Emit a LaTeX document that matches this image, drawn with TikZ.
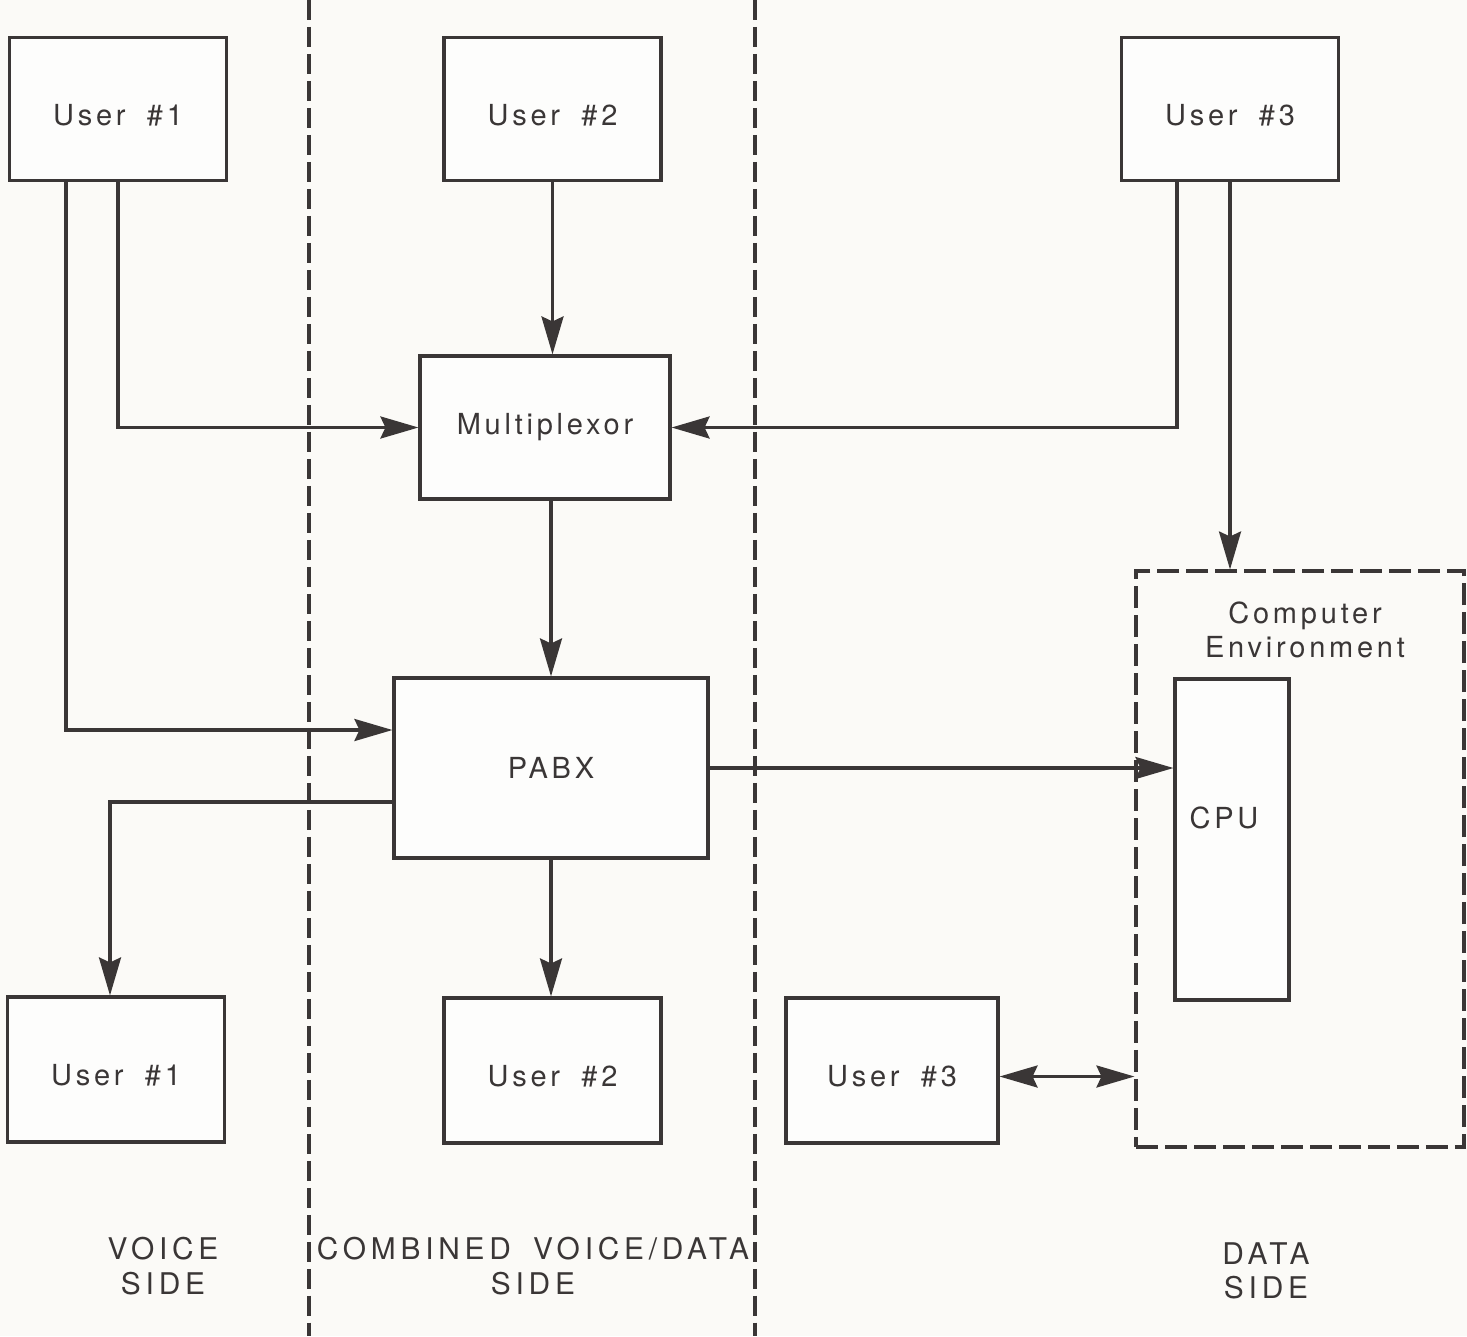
\documentclass[tikz,border=0pt]{standalone}
\usepackage{fontspec}
\setmainfont{TeX Gyre Heros}[LetterSpace=13, WordSpace=1.8]
\newfontfamily\sidefont{TeX Gyre Heros}[LetterSpace=16, WordSpace=1.7]
\usetikzlibrary{arrows.meta, positioning, calc}
\definecolor{paperF}{HTML}{FBFAF7}
\definecolor{inkS}{HTML}{3A3636}
\tikzset{
  >={Stealth[length=0.76cm, width=0.44cm, inset=0.1cm]},
  fbox/.style={draw=inkS, line width=1.8pt, fill=white!60!paperF,
    align=center, font=\fontsize{16.5}{19.5}\selectfont, inner sep=0pt, text=inkS},
  ubox/.style={fbox, minimum width=4.34cm, minimum height=2.86cm,
    text height=0.64cm, text depth=0cm},
  envbox/.style={draw=inkS, line width=1.8pt, dash pattern=on 0.44cm off 0.14cm,
    minimum width=6.56cm, minimum height=11.52cm, inner sep=0pt},
  divider/.style={draw=inkS, line width=1.8pt, dash pattern=on 0.4cm off 0.14cm},
  txt/.style={align=center, text=inkS, inner sep=0pt,
    font=\fontsize{16.5}{19}\selectfont},
  sidelbl/.style={align=center, text=inkS, inner sep=0pt,
    font=\sidefont\fontsize{17}{19.5}\selectfont},
  flow/.style={->, line width=1.8pt, draw=inkS},
  dflow/.style={<->, line width=1.8pt, draw=inkS},
}
\begin{document}
\begin{tikzpicture}[x=0.02cm, y=-0.02cm]

  \fill[paperF] (0,0) rectangle (1467,1336);
  \useasboundingbox (0,0) rectangle (1467,1336);

  % ---- Side dividers ---------------------------------------------------------
  \draw[divider] (309,0) -- (309,1336);
  \draw[divider] (755,0) -- (755,1336);

  % ---- Top row: sending users ------------------------------------------------
  \node[ubox] (usr1t) at (118,109)   {User \#1};
  \node[ubox] (usr2t) at (552.5,109) {User \#2};
  \node[ubox] (usr3t) at (1230,109)  {User \#3};

  % ---- Switching -------------------------------------------------------------
  \node[fbox, minimum width=5cm, minimum height=2.86cm]   (mux)  at (545,427.5) {Multiplexor};
  \node[fbox, minimum width=6.28cm, minimum height=3.6cm] (pabx) at (551,768)   {PABX};

  % ---- Computer environment --------------------------------------------------
  \node[envbox] (env) at (1300,859) {};
  \node[txt] (envlbl) at (1305,630) {Computer\\Environment};
  \node[fbox, minimum width=2.28cm, minimum height=6.42cm] (cpu) at (1232,839.5) {};
  \node[txt] (cpulbl) at (1224,818) {CPU};

  % ---- Bottom row: receiving users -------------------------------------------
  \node[ubox, minimum height=2.9cm] (usr1b) at (116,1069.5)   {User \#1};
  \node[ubox, minimum height=2.9cm] (usr2b) at (552.5,1070.5) {User \#2};
  \node[ubox, minimum width=4.24cm, minimum height=2.9cm] (usr3b) at (892,1070.5) {User \#3};

  % ---- Connectors ------------------------------------------------------------
  \draw[flow] (usr1t.south) |- (mux.west);
  \draw[flow] ($(usr1t.south)+(-52,0)$) |- ($(pabx.west)+(0,-38)$);
  \draw[flow] (usr2t.south) -- (usr2t.south |- mux.north);
  \draw[flow] ($(usr3t.south)+(-53,0)$) |- (mux.east);
  \draw[flow] (usr3t.south) -- (usr3t.south |- env.north);
  \draw[flow] (mux.south -| pabx.north) -- (pabx.north);
  \draw[flow] ($(pabx.west)+(0,34)$) -| ($(usr1b.north)+(-6,0)$);
  \draw[flow] (pabx.south) -- (pabx.south |- usr2b.north);
  \draw[flow] (pabx.east) -- (pabx.east -| cpu.west);
  % user 3 talks both ways with the computer side
  \coordinate (u3link) at ($(usr3b.east)+(0,6)$);
  \draw[dflow] (u3link) -- (u3link -| env.west);

  % ---- Side labels -----------------------------------------------------------
  \node[sidelbl] (voice)    at (163,1266)  {VOICE\\SIDE};
  \node[sidelbl] (combined) at (533,1266)  {COMBINED VOICE/DATA\\SIDE};
  \node[sidelbl] (data)     at (1266,1271) {DATA\\SIDE};

\end{tikzpicture}
\end{document}
